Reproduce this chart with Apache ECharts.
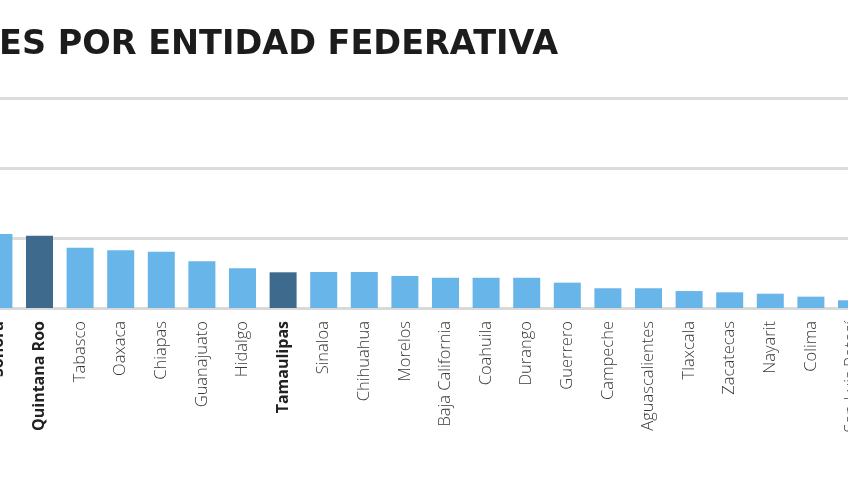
<!DOCTYPE html>
<html>
<head>
<meta charset="utf-8">
<script src="https://cdn.jsdelivr.net/npm/echarts@6/dist/echarts.min.js"></script>
<style>
html,body{margin:0;padding:0;background:#fff;}
#chart{width:848px;height:477px;}
</style>
</head>
<body>
<div id="chart"></div>
<script>
const titleText = "ES POR ENTIDAD FEDERATIVA";
const categories = ["Sonora","Quintana Roo","Tabasco","Oaxaca","Chiapas","Guanajuato","Hidalgo","Tamaulipas","Sinaloa","Chihuahua","Morelos","Baja California","Coahuila","Durango","Guerrero","Campeche","Aguascalientes","Tlaxcala","Zacatecas","Nayarit","Colima","San Luis Potosí"];
const values = [52.9,51.6,43.1,41.2,40.2,33.4,28.4,25.5,25.7,25.7,22.9,21.6,21.6,21.6,18.1,14.1,14.1,12.1,11.2,10.2,8.1,5.5];
const highlighted = ["Quintana Roo","Tamaulipas"];
const boldLabels = ["Sonora","Quintana Roo","Tamaulipas"];
const yMin = 0, yMax = 150, yInterval = 50;

const LIGHT = "#68b5ea", DARK = "#3e6a8e";
const chart = echarts.init(document.getElementById("chart"));
chart.setOption({
  backgroundColor: "#ffffff",
  animation: false,
  title: {
    text: titleText,
    left: -6, top: 23,
    textStyle: {fontFamily: "DejaVu Sans", fontWeight: "bold", fontSize: 33.5, color: "#1c1c1c"}
  },
  grid: {left: -21.4, width: 893.2, top: 98, height: 210, containLabel: false, outerBoundsMode: "none"},
  xAxis: {
    type: "category",
    data: categories,
    axisLine: {show: true, lineStyle: {color: "#d9d9d9", width: 3}},
    axisTick: {show: false},
    axisLabel: {
      interval: 0, rotate: 90, margin: 13,
      formatter: function (v) { return boldLabels.indexOf(v) >= 0 ? "{b|" + v + "}" : "{n|" + v + "}"; },
      rich: {
        b: {fontFamily: "Open Sans", fontWeight: "bold", fontSize: 16, color: "#222"},
        n: {fontFamily: "Open Sans", fontWeight: 300, fontSize: 16.5, color: "#3a3a3a"}
      }
    }
  },
  yAxis: {
    type: "value", min: yMin, max: yMax, interval: yInterval,
    axisLabel: {show: false},
    axisLine: {show: false}, axisTick: {show: false},
    splitLine: {lineStyle: {color: "#dcdcdc", width: 3}}
  },
  series: [{
    type: "bar",
    barCategoryGap: "33.5%",
    data: values.map((v, i) => ({
      value: v,
      itemStyle: {color: highlighted.indexOf(categories[i]) >= 0 ? DARK : LIGHT}
    }))
  }]
});
</script>
</body>
</html>
